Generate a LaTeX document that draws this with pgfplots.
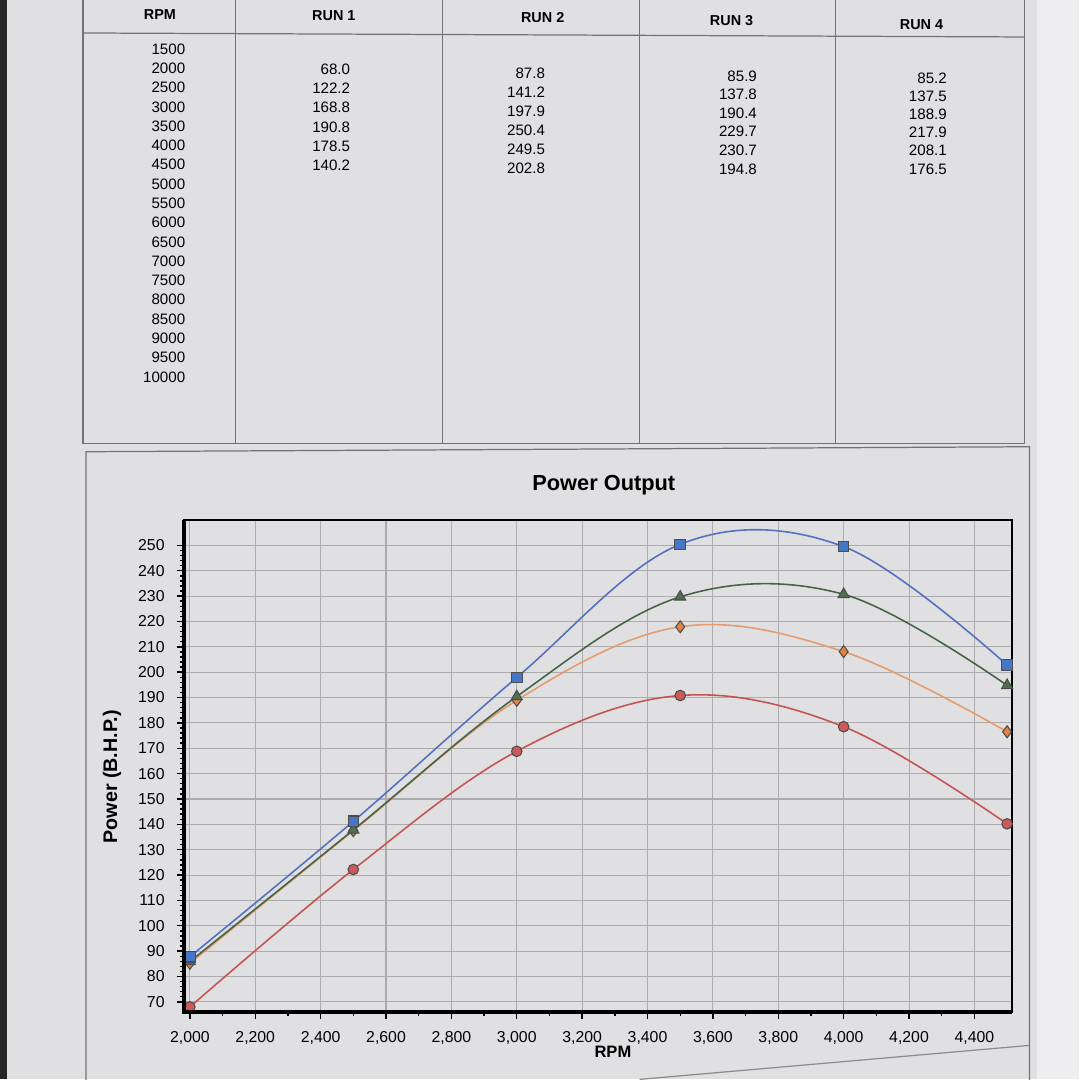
\documentclass[border=0pt]{standalone}
\usepackage{pgfplots}
\pgfplotsset{compat=1.18}
\usepackage{pgfplotstable}
\usepackage{fontspec}
\setmainfont{Liberation Sans}
\definecolor{paper}{RGB}{224,224,226}
\definecolor{paperR}{RGB}{238,238,240}
\definecolor{gridc}{RGB}{172,172,174}
\definecolor{lineA}{RGB}{196,84,84}
\definecolor{fillA}{RGB}{205,90,90}
\definecolor{lineB}{RGB}{84,112,190}
\definecolor{fillB}{RGB}{70,118,200}
\definecolor{lineC}{RGB}{70,100,72}
\definecolor{fillC}{RGB}{80,110,80}
\definecolor{lineD}{RGB}{228,156,110}
\definecolor{fillD}{RGB}{225,130,70}

\pgfplotstableread{
rpm  r1    r2    r3    r4
2000 68.0  87.8  85.9  85.2
2500 122.2 141.2 137.8 137.5
3000 168.8 197.9 190.4 188.9
3500 190.8 250.4 229.7 217.9
4000 178.5 249.5 230.7 208.1
4500 140.2 202.8 194.8 176.5
}\powerdata

\begin{document}
\begin{tikzpicture}
\useasboundingbox (0,0) rectangle (10.8,-10.8);
\clip (0,0) rectangle (10.8,-10.8);
\begin{scope}[x=0.01cm,y=-0.01cm]
  \fill[paper] (0,0) rectangle (1080,1080);
  \fill[paperR] (1038,0) rectangle (1080,1080);
  \fill[black!85] (0,0) rectangle (7,1080);
  % table frame
  \draw[line width=0.35pt, black!55] (83,-2) -- (83,444) -- (1025,444) -- (1025,-2);
  \draw[line width=0.35pt, black!55] (83,33) -- (1025,37);
  \foreach \x in {236,443,640,836} \draw[line width=0.35pt, black!55] (\x,-2) -- (\x,444);
  % headers
  \begin{scope}[every node/.style={font=\bfseries\fontsize{4.1}{5}\selectfont}]
    \node at (160,15) {RPM};
    \node at (334,16) {RUN 1};
    \node at (543,18) {RUN 2};
    \node at (732,21) {RUN 3};
    \node at (922,25) {RUN 4};
  \end{scope}
  \begin{scope}[every node/.style={font=\fontsize{4.3}{5}\selectfont, anchor=east, inner sep=0pt}]
    \foreach \v [count=\i from 0] in {1500,2000,2500,3000,3500,4000,4500,5000,5500,6000,6500,7000,7500,8000,8500,9000,9500,10000}
      \node at (186,{49+19.3*\i}) {\v};
    \foreach \v [count=\i from 0] in {68.0,122.2,168.8,190.8,178.5,140.2}
      \node at (351,{69+19.3*\i}) {\v};
    \foreach \v [count=\i from 0] in {87.8,141.2,197.9,250.4,249.5,202.8}
      \node at (546,{73+19.0*\i}) {\v};
    \foreach \v [count=\i from 0] in {85.9,137.8,190.4,229.7,230.7,194.8}
      \node at (758,{76+18.6*\i}) {\v};
    \foreach \v [count=\i from 0] in {85.2,137.5,188.9,217.9,208.1,176.5}
      \node at (948,{78+18.2*\i}) {\v};
  \end{scope}
  % chart frame
  \draw[line width=0.35pt, black!55] (86,1085) -- (86,452) -- (1030,447) -- (1030,1085);
  \draw[line width=0.35pt, black!45] (640,1080) -- (1030,1046);
\end{scope}

\begin{axis}[
  at={(1.84cm,-10.12cm)}, anchor=south west,
  scale only axis, width=8.28cm, height=4.92cm,
  xmin=1982, xmax=4515, ymin=66, ymax=260,
  xtick={2000,2200,...,4400},
  ytick={70,80,...,250},
  minor x tick num=1, minor y tick num=4,
  grid=major,
  major grid style={gridc, line width=0.3pt},
  tick align=outside, xtick pos=bottom, ytick pos=left,
  major tick length=0.07cm, minor tick length=0.035cm,
  every tick/.style={black, line width=0.4pt},
  axis line style={black, line width=0.5pt},
  /pgf/number format/assume math mode=true,
  ticklabel style={font=\fontsize{4.5}{5}\selectfont},
  every axis title shift=0pt,
  title={Power Output},
  title style={font=\bfseries\fontsize{6.2}{7}\selectfont, at={(axis description cs:0.507,1.071)}, anchor=center},
  xlabel={RPM},
  xlabel style={font=\bfseries\fontsize{4.7}{5}\selectfont, at={(axis description cs:0.518,-0.08)}, anchor=center},
  ylabel={Power (B.H.P.)},
  ylabel style={font=\bfseries\fontsize{5.6}{6}\selectfont, at={(axis description cs:-0.087,0.478)}, anchor=center},
  clip=false,
  every axis plot/.append style={smooth, tension=0.6, line width=0.45pt},
  after end axis/.code={
    \draw[line width=1pt, black] (rel axis cs:0,1) -- (rel axis cs:0,0) -- (rel axis cs:1,0);
  },
]
\addplot[lineA, mark=*, mark size=1.5pt, mark options={fill=fillA, draw=black!70, line width=0.3pt}]
  table[x=rpm, y=r1]{\powerdata};
\addplot[lineD, mark=diamond*, mark size=1.7pt, mark options={fill=fillD, draw=black!70, line width=0.3pt}]
  table[x=rpm, y=r4]{\powerdata};
\addplot[lineC, mark=triangle*, mark size=1.8pt, mark options={fill=fillC, draw=black!70, line width=0.3pt}]
  table[x=rpm, y=r3]{\powerdata};
\addplot[lineB, mark=square*, mark size=1.5pt, mark options={fill=fillB, draw=black!70, line width=0.3pt}]
  table[x=rpm, y=r2]{\powerdata};
\end{axis}
\end{tikzpicture}
\end{document}
